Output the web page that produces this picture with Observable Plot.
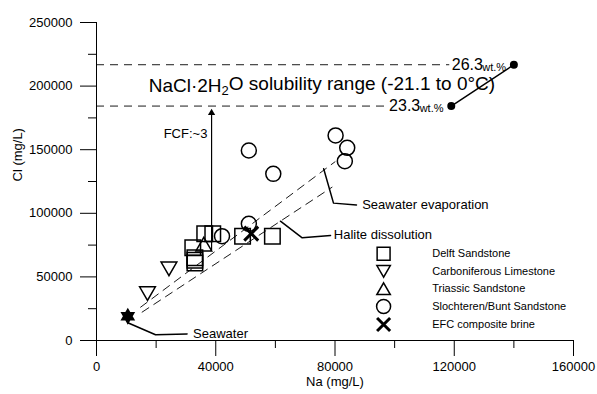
<!DOCTYPE html>
<html><head><meta charset="utf-8">
<script src="https://cdn.jsdelivr.net/npm/d3@7"></script>
<script src="https://cdn.jsdelivr.net/npm/@observablehq/plot@0.6"></script>
<style>body{margin:0;background:#fff;}</style>
</head><body><div id="chart"></div>
<script>
// ---- axes ----
const xTicks = [0, 40000, 80000, 120000, 160000];
const xMinorTicks = [20000, 60000, 100000, 140000];
const yTicks = [0, 50000, 100000, 150000, 200000, 250000];
const yMinorTicks = [25000, 75000, 125000, 175000, 225000];

// ---- data (Na, Cl in mg/L) ----
const seawaterNa = [10500];
const seawaterCl = [19000];
const delftNa = [36300, 39000, 32300, 33000, 33000, 33000, 49000, 59000];
const delftCl = [84000, 84000, 73000, 65000, 63000, 61000, 82000, 82000];
const carbNa = [17100, 24300];
const carbCl = [38600, 58100];
const triasNa = [36000];
const triasCl = [74000];
const slochNa = [42100, 51100, 51100, 59300, 80200, 84100, 83300];
const slochCl = [82000, 91700, 149400, 131000, 161200, 151500, 141000];
const efcNa = [51900];
const efcCl = [84000];

// trend lines
const evapNa = [14800, 80000];
const evapCl = [26200, 140500];
const haliteNa = [15300, 79000];
const haliteCl = [22300, 120500];

// NaCl.2H2O solubility range
const solNa = [119000, 140000];
const solCl = [184300, 216800];
const solLabels = ["23.3", "26.3"];
const solLineEnd = [97500, 118500];

// FCF arrow
const fcfNa = 38600;
const fcfCl = [70700, 178900];

// legend
const legendLabels = ["Delft Sandstone", "Carboniferous Limestone", "Triassic Sandstone", "Slochteren/Bunt Sandstone", "EFC composite brine"];
const legendNa = 96300;
const legendTextNa = 112600;
const legendCl = [68200, 54500, 40600, 26700, 12600];
const legendSymbolCl = [68200, 55900, 39200, 26700, 12600];

// leader lines
const seaLeaderNa = [10500, 19800, 30400];
const seaLeaderCl = [14000, 4500, 5200];
const evapLeaderNa = [76200, 79500, 87200];
const evapLeaderCl = [135000, 108000, 106500];
const halLeaderNa = [61700, 69000, 78500];
const halLeaderCl = [93800, 80700, 82500];

const hexagram = {
  draw(context, size) {
    const R = Math.sqrt(size / Math.PI), r = R / Math.sqrt(3);
    for (let i = 0; i < 12; i++) {
      const a = -Math.PI / 2 + i * Math.PI / 6;
      const rad = i % 2 === 0 ? R : r;
      const x = rad * Math.cos(a), y = rad * Math.sin(a);
      if (i === 0) context.moveTo(x, y); else context.lineTo(x, y);
    }
    context.closePath();
  }
};
const triangleDown = {
  draw(context, size) {
    const s3 = Math.sqrt(3);
    const y = Math.sqrt(size / (s3 * 3));
    context.moveTo(0, 2 * y);
    context.lineTo(-s3 * y, -y);
    context.lineTo(s3 * y, -y);
    context.closePath();
  }
};

const pts = (xs, ys) => xs.map((x, i) => ({x, y: ys[i]}));
const font = "Liberation Sans, Arial, sans-serif";

const chart = Plot.plot({
  width: 597, height: 394,
  marginLeft: 96, marginRight: 24, marginTop: 22, marginBottom: 54,
  style: {fontFamily: font, fontSize: "13px", background: "white", color: "black", overflow: "visible"},
  x: {domain: [0, 160000]},
  y: {domain: [0, 250000]},
  marks: [
    Plot.axisX(xTicks, {tickSize: 16, tickPadding: 5, tickFormat: d => String(d), fontSize: 13, label: null}),
    Plot.axisX(xMinorTicks, {tickSize: 8, tickFormat: () => "", label: null}),
    Plot.axisY(yTicks, {tickSize: 16, tickPadding: 8, tickFormat: d => String(d), fontSize: 13, label: null}),
    Plot.axisY(yMinorTicks, {tickSize: 8, tickFormat: () => "", label: null}),
    Plot.ruleX([0], {stroke: "black"}),
    Plot.ruleY([0], {stroke: "black"}),
    Plot.text(["Na (mg/L)"], {frameAnchor: "bottom", dy: 45, fontSize: 13}),
    Plot.text(["Cl (mg/L)"], {frameAnchor: "left", dx: -79, rotate: -90, fontSize: 13}),

    // solubility range
    Plot.ruleY(solCl, {y: d => d, x1: 0, x2: (d, i) => solLineEnd[i], stroke: "black", strokeDasharray: "8,6", strokeWidth: 0.9}),
    Plot.line(pts(solNa, solCl), {x: "x", y: "y", stroke: "black"}),
    Plot.dot(pts(solNa, solCl), {x: "x", y: "y", r: 4, fill: "black"}),
    Plot.text(pts(solNa, solCl), {x: d => d.x - 10400, y: "y", text: (d, i) => solLabels[i], textAnchor: "end", fontSize: 16}),
    Plot.text(pts(solNa, solCl), {x: d => d.x - 2600, y: d => d.y - 1800, text: () => "wt.%", textAnchor: "end", fontSize: 11}),
    Plot.text(["NaCl·2H2O solubility range (-21.1 to 0°C)"], {x: 17500, y: 200500, textAnchor: "start", fontSize: 19}),

    // FCF arrow
    Plot.ruleX([fcfNa], {y1: fcfCl[0], y2: fcfCl[1], stroke: "black", strokeWidth: 1.2}),
    Plot.dot([fcfNa], {x: d => d, y: fcfCl[1], symbol: "triangle", r: 2.7, fill: "black"}),
    Plot.text(["FCF:~3"], {x: 37200, y: 162700, textAnchor: "end", fontSize: 13}),

    // trend lines
    Plot.line(pts(evapNa, evapCl), {x: "x", y: "y", stroke: "black", strokeDasharray: "8,6", strokeWidth: 0.9}),
    Plot.line(pts(haliteNa, haliteCl), {x: "x", y: "y", stroke: "black", strokeDasharray: "8,6", strokeWidth: 0.9}),

    // leaders
    Plot.line(pts(seaLeaderNa, seaLeaderCl), {x: "x", y: "y", stroke: "black"}),
    Plot.line(pts(evapLeaderNa, evapLeaderCl), {x: "x", y: "y", stroke: "black"}),
    Plot.line(pts(halLeaderNa, halLeaderCl), {x: "x", y: "y", stroke: "black"}),
    Plot.text(["Seawater"], {x: 32400, y: 5500, textAnchor: "start", fontSize: 13}),
    Plot.text(["Seawater evaporation"], {x: 89100, y: 106300, textAnchor: "start", fontSize: 13}),
    Plot.text(["Halite dissolution"], {x: 79600, y: 83300, textAnchor: "start", fontSize: 13}),

    // data
    Plot.dot(pts(delftNa, delftCl), {x: "x", y: "y", symbol: "square", r: 8.75, stroke: "black", fill: "none"}),
    Plot.dot(pts(carbNa, carbCl), {x: "x", y: "y", symbol: triangleDown, r: 5.85, stroke: "black", fill: "none"}),
    Plot.dot(pts(triasNa, triasCl), {x: "x", y: "y", symbol: "triangle", r: 5.85, stroke: "black", fill: "none"}),
    Plot.dot(pts(slochNa, slochCl), {x: "x", y: "y", symbol: "circle", r: 7.5, stroke: "black", fill: "none"}),
    Plot.dot(pts(efcNa, efcCl), {x: "x", y: "y", symbol: "times", r: 6.4, stroke: "black", strokeWidth: 3}),
    Plot.dot(pts(seawaterNa, seawaterCl), {x: "x", y: "y", symbol: hexagram, r: 8.5, fill: "black"}),

    // legend
    Plot.dot([legendSymbolCl[0]], {x: legendNa, y: d => d, symbol: "square", r: 7.3, stroke: "black", fill: "none"}),
    Plot.dot([legendSymbolCl[1]], {x: legendNa, y: d => d, symbol: triangleDown, r: 5.0, stroke: "black", fill: "none"}),
    Plot.dot([legendSymbolCl[2]], {x: legendNa, y: d => d, symbol: "triangle", r: 5.0, stroke: "black", fill: "none"}),
    Plot.dot([legendSymbolCl[3]], {x: legendNa, y: d => d, symbol: "circle", r: 7, stroke: "black", fill: "none"}),
    Plot.dot([legendSymbolCl[4]], {x: legendNa, y: d => d, symbol: "times", r: 6, stroke: "black", strokeWidth: 3}),
    Plot.text(legendLabels, {x: legendTextNa, y: (d, i) => legendCl[i], text: d => d, textAnchor: "start", fontSize: 11})
  ]
});

document.getElementById("chart").appendChild(chart);

// subscript in the title
d3.select(chart).selectAll("text").filter(function () {
  return this.textContent.startsWith("NaCl");
}).each(function () {
  const t = d3.select(this);
  t.text(null);
  t.append("tspan").text("NaCl·2H");
  t.append("tspan").attr("dy", "0.3em").attr("font-size", "13px").text("2");
  t.append("tspan").attr("dy", "-0.3em").text("O solubility range (-21.1 to 0°C)");
});
</script>
</body></html>
